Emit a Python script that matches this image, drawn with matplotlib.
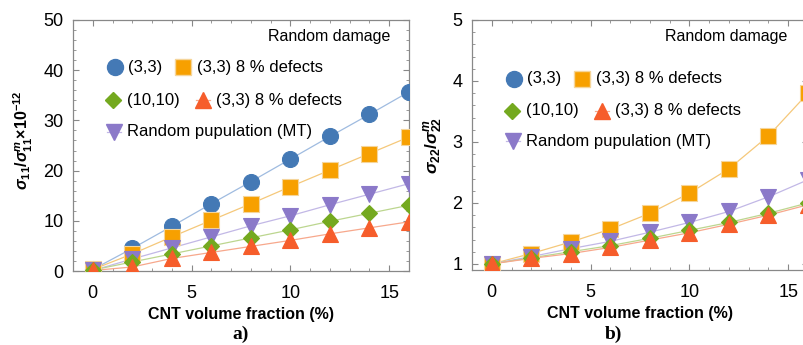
import numpy as np
import matplotlib
matplotlib.use("Agg")
import matplotlib.pyplot as plt
from matplotlib.ticker import MultipleLocator

plt.rcParams['font.family'] = ['Liberation Sans', 'DejaVu Sans']
plt.rcParams['mathtext.fontset'] = 'custom'
plt.rcParams['mathtext.bf'] = 'Liberation Sans:italic:bold'
plt.rcParams['mathtext.it'] = 'Liberation Sans:italic:bold'
plt.rcParams['mathtext.rm'] = 'Liberation Sans:bold'
plt.rcParams['mathtext.sf'] = 'Liberation Sans:bold'

# CNT volume fraction (%)
vf = [0, 2, 4, 6, 8, 10, 12, 14, 16]

# sigma_11 / sigma_11^m (x1e-12)
s11_33 = [0.3, 4.5, 8.9, 13.4, 17.8, 22.3, 26.8, 31.2, 35.7]
s11_33_def = [0.3, 3.4, 6.8, 10.1, 13.4, 16.8, 20.1, 23.4, 26.7]
s11_1010 = [0.2, 1.8, 3.4, 5.0, 6.6, 8.2, 9.9, 11.5, 13.1]
s11_33_def2 = [0.1, 0.8, 2.5, 3.7, 4.9, 6.1, 7.4, 8.6, 9.8]
s11_mt = [0.1, 2.4, 4.6, 6.8, 9.0, 11.0, 13.2, 15.3, 17.4]

# sigma_22 / sigma_22^m
s22_33_def = [1.0, 1.17, 1.36, 1.57, 1.83, 2.16, 2.56, 3.10, 3.80]
s22_1010 = [1.0, 1.10, 1.20, 1.30, 1.42, 1.55, 1.68, 1.83, 2.0]
s22_33_def2 = [1.0, 1.09, 1.17, 1.27, 1.39, 1.51, 1.65, 1.80, 1.97]
s22_mt = [1.0, 1.12, 1.25, 1.37, 1.52, 1.68, 1.86, 2.10, 2.38]

blue = '#4479b5'
orange = '#f7a000'
green = '#74a91f'
red = '#f65d2b'
purple = '#8b79c9'

styles = {
    'c33': dict(marker='o', color=blue, ms=11.5, line='#9fbbe0'),
    'sq': dict(marker='s', color=orange, ms=11, line='#f5c87a'),
    'dia': dict(marker='D', color=green, ms=8, line='#bcd68f'),
    'tri': dict(marker='^', color=red, ms=11, line='#f7a88c'),
    'inv': dict(marker='v', color=purple, ms=11, line='#c2b8e6'),
}


def series(ax, y, key):
    st = styles[key]
    ax.plot(vf, y, '-', color=st['line'], lw=0.9, zorder=2)
    ax.plot(vf, y, ls='none', marker=st['marker'], ms=st['ms'],
            mfc=st['color'], mec='#f5d59a' if key == 'sq' else st['color'],
            mew=0.8, zorder=3)


def key_entry(ax, x, y, key, label):
    st = styles[key]
    ax.plot([x - 0.022, x + 0.022], [y, y], '-', color=st['line'], lw=0.9,
            transform=ax.transAxes, clip_on=False, zorder=4)
    ax.plot([x], [y], ls='none', marker=st['marker'], ms=st['ms'],
            mfc=st['color'], mec='#f5d59a' if key == 'sq' else st['color'],
            transform=ax.transAxes, clip_on=False, zorder=5)
    ax.text(x + 0.04, y, label, transform=ax.transAxes, fontsize=12,
            va='center', ha='left', zorder=5)


def frame(ax, tag_x):
    for sp in ax.spines.values():
        sp.set_color('#888888')
        sp.set_linewidth(0.9)
    ax.xaxis.set_major_locator(MultipleLocator(5))
    ax.xaxis.set_minor_locator(MultipleLocator(1))
    ax.tick_params(which='both', direction='in', top=True, right=True,
                   color='#888888', labelsize=13)
    ax.tick_params(axis='x', pad=10)
    ax.tick_params(axis='y', pad=7)
    ax.tick_params(which='major', length=4)
    ax.tick_params(which='minor', length=2.5)
    ax.set_xlabel('CNT volume fraction (%)', fontsize=11.5, fontweight='bold',
                  labelpad=4)
    ax.text(tag_x, 0.936, 'Random damage', transform=ax.transAxes,
            fontsize=11.5, ha='right', va='center')


fig = plt.figure(figsize=(8.04, 3.45), dpi=100)

# a) axial ratio
ax1 = fig.add_axes([73 / 804, 1 - 271 / 345, 336 / 804, 251 / 345])
series(ax1, s11_33, 'c33')
series(ax1, s11_33_def, 'sq')
series(ax1, s11_mt, 'inv')
series(ax1, s11_1010, 'dia')
series(ax1, s11_33_def2, 'tri')
ax1.set_xlim(-1, 16)
ax1.set_ylim(0, 50)
ax1.yaxis.set_major_locator(MultipleLocator(10))
ax1.yaxis.set_minor_locator(MultipleLocator(2))
frame(ax1, 0.946)
ax1.set_ylabel(r'$\mathbf{\sigma}_{\mathsf{11}}\mathsf{/}\mathbf{\sigma}_{\mathsf{11}}^{\mathit{m}}'
               r'\mathsf{\times 10^{-12}}$', fontsize=11.5)
ax1.yaxis.set_label_coords(-0.113, 0.52)
key_entry(ax1, 0.125, 0.812, 'c33', '(3,3)')
key_entry(ax1, 0.328, 0.812, 'sq', '(3,3) 8 % defects')
key_entry(ax1, 0.12, 0.68, 'dia', '(10,10)')
key_entry(ax1, 0.387, 0.68, 'tri', '(3,3) 8 % defects')
key_entry(ax1, 0.122, 0.555, 'inv', 'Random pupulation (MT)')
fig.text(241 / 804, 1 - 334 / 345, 'a)', fontsize=14, fontweight='bold',
         family='Liberation Serif', ha='center', va='center')

# b) transverse ratio
ax2 = fig.add_axes([472 / 804, 1 - 270 / 345, 336 / 804, 250 / 345])
series(ax2, s22_33_def, 'sq')
series(ax2, s22_mt, 'inv')
series(ax2, s22_1010, 'dia')
series(ax2, s22_33_def2, 'tri')
ax2.set_xlim(-1, 16)
ax2.set_ylim(0.9, 5)
ax2.yaxis.set_major_locator(MultipleLocator(1))
ax2.yaxis.set_minor_locator(MultipleLocator(0.2))
frame(ax2, 0.9375)
ax2.set_ylabel(r'$\mathbf{\sigma}_{\mathsf{22}}\mathsf{/}\mathbf{\sigma}_{\mathsf{22}}^{\mathit{m}}$',
               fontsize=12.5)
ax2.yaxis.set_label_coords(-0.08, 0.5)
key_entry(ax2, 0.125, 0.765, 'c33', '(3,3)')
key_entry(ax2, 0.328, 0.765, 'sq', '(3,3) 8 % defects')
key_entry(ax2, 0.12, 0.638, 'dia', '(10,10)')
key_entry(ax2, 0.387, 0.638, 'tri', '(3,3) 8 % defects')
key_entry(ax2, 0.122, 0.515, 'inv', 'Random pupulation (MT)')
fig.text(613 / 804, 1 - 334 / 345, 'b)', fontsize=14, fontweight='bold',
         family='Liberation Serif', ha='center', va='center')

fig.savefig('out.png', dpi=100)
